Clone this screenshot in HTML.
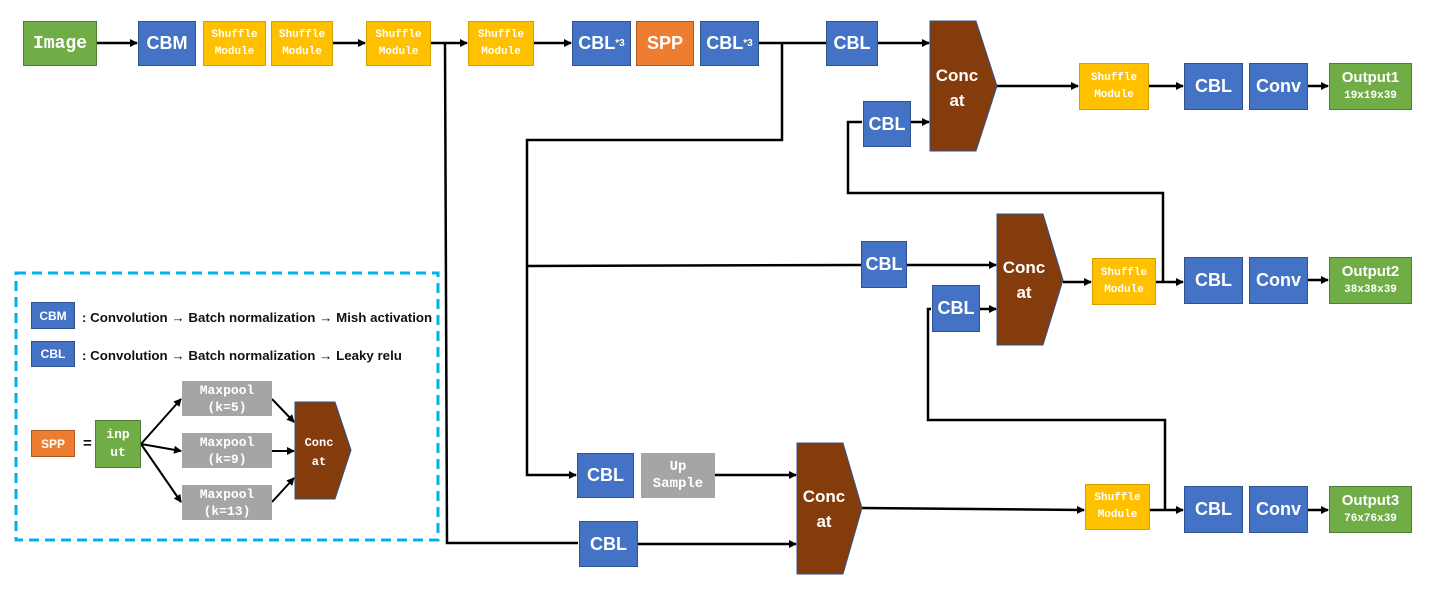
<!DOCTYPE html>
<html><head><meta charset="utf-8"><style>
body{margin:0;width:1438px;height:598px;background:#fff;position:relative;overflow:hidden;font-family:"Liberation Sans",sans-serif}
.b{position:absolute;display:flex;align-items:center;justify-content:center;text-align:center;color:#fff;box-sizing:border-box;font-weight:bold}
.blue{background:#4472c4;border:1px solid #2f528f;font-size:18px}
.yel{background:#ffc000;border:1px solid #d6a000;font-family:"Liberation Mono",monospace;font-size:11px;line-height:17px}
.grn{background:#70ad47;border:1px solid #507e32}
.org{background:#ed7d31;border:1px solid #ae5a21}
.gry{background:#a5a5a5;font-family:"Liberation Mono",monospace;font-size:13px;line-height:17px}
.out{flex-direction:column;font-size:15px;line-height:18px}
.out small{display:block;font-size:11px;font-family:"Liberation Mono",monospace}
.lg{position:absolute;font-size:13.3px;font-weight:bold;color:#111}
</style></head><body>
<svg width="1438" height="598" style="position:absolute;left:0;top:0">
<defs><marker id="a" markerWidth="8" markerHeight="8" refX="7" refY="4" orient="auto" markerUnits="userSpaceOnUse"><path d="M0,0 L8,4 L0,8 z" fill="#000"/></marker></defs>
<g stroke="#000" stroke-width="2.5" fill="none">
<line x1="97" y1="43" x2="137" y2="43" marker-end="url(#a)"/>
<line x1="333" y1="43" x2="365" y2="43" marker-end="url(#a)"/>
<line x1="431" y1="43" x2="467" y2="43" marker-end="url(#a)"/>
<polyline points="445,43 447,543 578,543"/>
<line x1="638" y1="544" x2="796" y2="544" marker-end="url(#a)"/>
<line x1="534" y1="43" x2="571" y2="43" marker-end="url(#a)"/>
<line x1="759" y1="43" x2="826" y2="43"/>
<polyline points="782,43 782,140 527,140 527,475 576,475" marker-end="url(#a)"/>
<polyline points="527,266 861,265"/>
<line x1="878" y1="43" x2="929" y2="43" marker-end="url(#a)"/>
<line x1="997" y1="86" x2="1078" y2="86" marker-end="url(#a)"/>
<line x1="1149" y1="86" x2="1183" y2="86" marker-end="url(#a)"/>
<line x1="1308" y1="86" x2="1328" y2="86" marker-end="url(#a)"/>
<polyline points="862,122 848,122 848,193 1163,193 1163,282"/>
<line x1="911" y1="122" x2="929" y2="122" marker-end="url(#a)"/>
<line x1="907" y1="265" x2="996" y2="265" marker-end="url(#a)"/>
<line x1="1063" y1="282" x2="1091" y2="282" marker-end="url(#a)"/>
<line x1="1156" y1="282" x2="1183" y2="282" marker-end="url(#a)"/>
<line x1="1308" y1="280" x2="1328" y2="280" marker-end="url(#a)"/>
<polyline points="931,309 928,309 928,420 1165,420 1165,510"/>
<line x1="980" y1="309" x2="996" y2="309" marker-end="url(#a)"/>
<line x1="715" y1="475" x2="796" y2="475" marker-end="url(#a)"/>
<line x1="862" y1="508" x2="1084" y2="510" marker-end="url(#a)"/>
<line x1="1150" y1="510" x2="1183" y2="510" marker-end="url(#a)"/>
<line x1="1308" y1="510" x2="1328" y2="510" marker-end="url(#a)"/>
<rect x="16" y="273" width="422" height="267" stroke="#00b0f0" stroke-width="3" stroke-dasharray="10,6"/>
<line x1="141" y1="444" x2="181" y2="399" marker-end="url(#a)" stroke-width="2"/>
<line x1="141" y1="444" x2="181" y2="451" marker-end="url(#a)" stroke-width="2"/>
<line x1="141" y1="444" x2="181" y2="502" marker-end="url(#a)" stroke-width="2"/>
<line x1="272" y1="399" x2="294" y2="422" marker-end="url(#a)" stroke-width="2"/>
<line x1="272" y1="451" x2="294" y2="451" marker-end="url(#a)" stroke-width="2"/>
<line x1="272" y1="502" x2="294" y2="478" marker-end="url(#a)" stroke-width="2"/>
</g>
<g fill="#843c0c" stroke="#2f528f" stroke-width="1">
<polygon points="930,21 976,21 997,86 976,151 930,151"/>
<polygon points="997,214 1043,214 1063,280 1043,345 997,345"/>
<polygon points="797,443 843,443 862,508 843,574 797,574"/>
<polygon points="295,402 335,402 351,450 335,499 295,499"/>
</g>
<g fill="#fff" font-weight="bold" font-family="Liberation Sans,sans-serif" text-anchor="middle">
<text x="957" y="81" font-size="17">Conc</text><text x="957" y="106" font-size="17">at</text>
<text x="1024" y="273" font-size="17">Conc</text><text x="1024" y="298" font-size="17">at</text>
<text x="824" y="502" font-size="17">Conc</text><text x="824" y="527" font-size="17">at</text>
<text x="319" y="446" font-size="12" font-family="Liberation Mono,monospace">Conc</text><text x="319" y="465" font-size="12" font-family="Liberation Mono,monospace">at</text>
</g>
</svg>
<div class="b grn" style="left:23px;top:21px;width:74px;height:45px;font-size:18px;font-family:'Liberation Mono',monospace">Image</div>
<div class="b blue" style="left:138px;top:21px;width:58px;height:45px">CBM</div>
<div class="b yel" style="left:203px;top:21px;width:63px;height:45px">Shuffle<br>Module</div>
<div class="b yel" style="left:271px;top:21px;width:62px;height:45px">Shuffle<br>Module</div>
<div class="b yel" style="left:366px;top:21px;width:65px;height:45px">Shuffle<br>Module</div>
<div class="b yel" style="left:468px;top:21px;width:66px;height:45px">Shuffle<br>Module</div>
<div class="b blue" style="left:572px;top:21px;width:59px;height:45px">CBL<span style="font-size:10px">*3</span></div>
<div class="b org" style="left:636px;top:21px;width:58px;height:45px;font-size:18px">SPP</div>
<div class="b blue" style="left:700px;top:21px;width:59px;height:45px">CBL<span style="font-size:10px">*3</span></div>
<div class="b blue" style="left:826px;top:21px;width:52px;height:45px">CBL</div>
<div class="b blue" style="left:863px;top:101px;width:48px;height:46px">CBL</div>
<div class="b yel" style="left:1079px;top:63px;width:70px;height:47px">Shuffle<br>Module</div>
<div class="b blue" style="left:1184px;top:63px;width:59px;height:47px">CBL</div>
<div class="b blue" style="left:1249px;top:63px;width:59px;height:47px">Conv</div>
<div class="b grn out" style="left:1329px;top:63px;width:83px;height:47px">Output1<small>19x19x39</small></div>
<div class="b blue" style="left:861px;top:241px;width:46px;height:47px">CBL</div>
<div class="b blue" style="left:932px;top:285px;width:48px;height:47px">CBL</div>
<div class="b yel" style="left:1092px;top:258px;width:64px;height:47px">Shuffle<br>Module</div>
<div class="b blue" style="left:1184px;top:257px;width:59px;height:47px">CBL</div>
<div class="b blue" style="left:1249px;top:257px;width:59px;height:47px">Conv</div>
<div class="b grn out" style="left:1329px;top:257px;width:83px;height:47px">Output2<small>38x38x39</small></div>
<div class="b blue" style="left:577px;top:453px;width:57px;height:45px">CBL</div>
<div class="b gry" style="left:641px;top:453px;width:74px;height:45px;font-size:14px">Up<br>Sample</div>
<div class="b blue" style="left:579px;top:521px;width:59px;height:46px">CBL</div>
<div class="b yel" style="left:1085px;top:484px;width:65px;height:46px">Shuffle<br>Module</div>
<div class="b blue" style="left:1184px;top:486px;width:59px;height:47px">CBL</div>
<div class="b blue" style="left:1249px;top:486px;width:59px;height:47px">Conv</div>
<div class="b grn out" style="left:1329px;top:486px;width:83px;height:47px">Output3<small>76x76x39</small></div>
<div class="b blue" style="left:31px;top:302px;width:44px;height:27px;font-size:12px">CBM</div>
<div class="lg" style="left:82px;top:310px">: Convolution → Batch normalization → Mish activation</div>
<div class="b blue" style="left:31px;top:341px;width:44px;height:26px;font-size:12px">CBL</div>
<div class="lg" style="left:82px;top:348px">: Convolution → Batch normalization → Leaky relu</div>
<div class="b org" style="left:31px;top:430px;width:44px;height:27px;font-size:12px">SPP</div>
<div class="lg" style="left:83px;top:435px;font-size:15px">=</div>
<div class="b grn" style="left:95px;top:420px;width:46px;height:48px;font-size:13px;font-family:'Liberation Mono',monospace;line-height:18px">inp<br>ut</div>
<div class="b gry" style="left:182px;top:381px;width:90px;height:35px">Maxpool<br>(k=5)</div>
<div class="b gry" style="left:182px;top:433px;width:90px;height:35px">Maxpool<br>(k=9)</div>
<div class="b gry" style="left:182px;top:485px;width:90px;height:35px">Maxpool<br>(k=13)</div>
</body></html>
